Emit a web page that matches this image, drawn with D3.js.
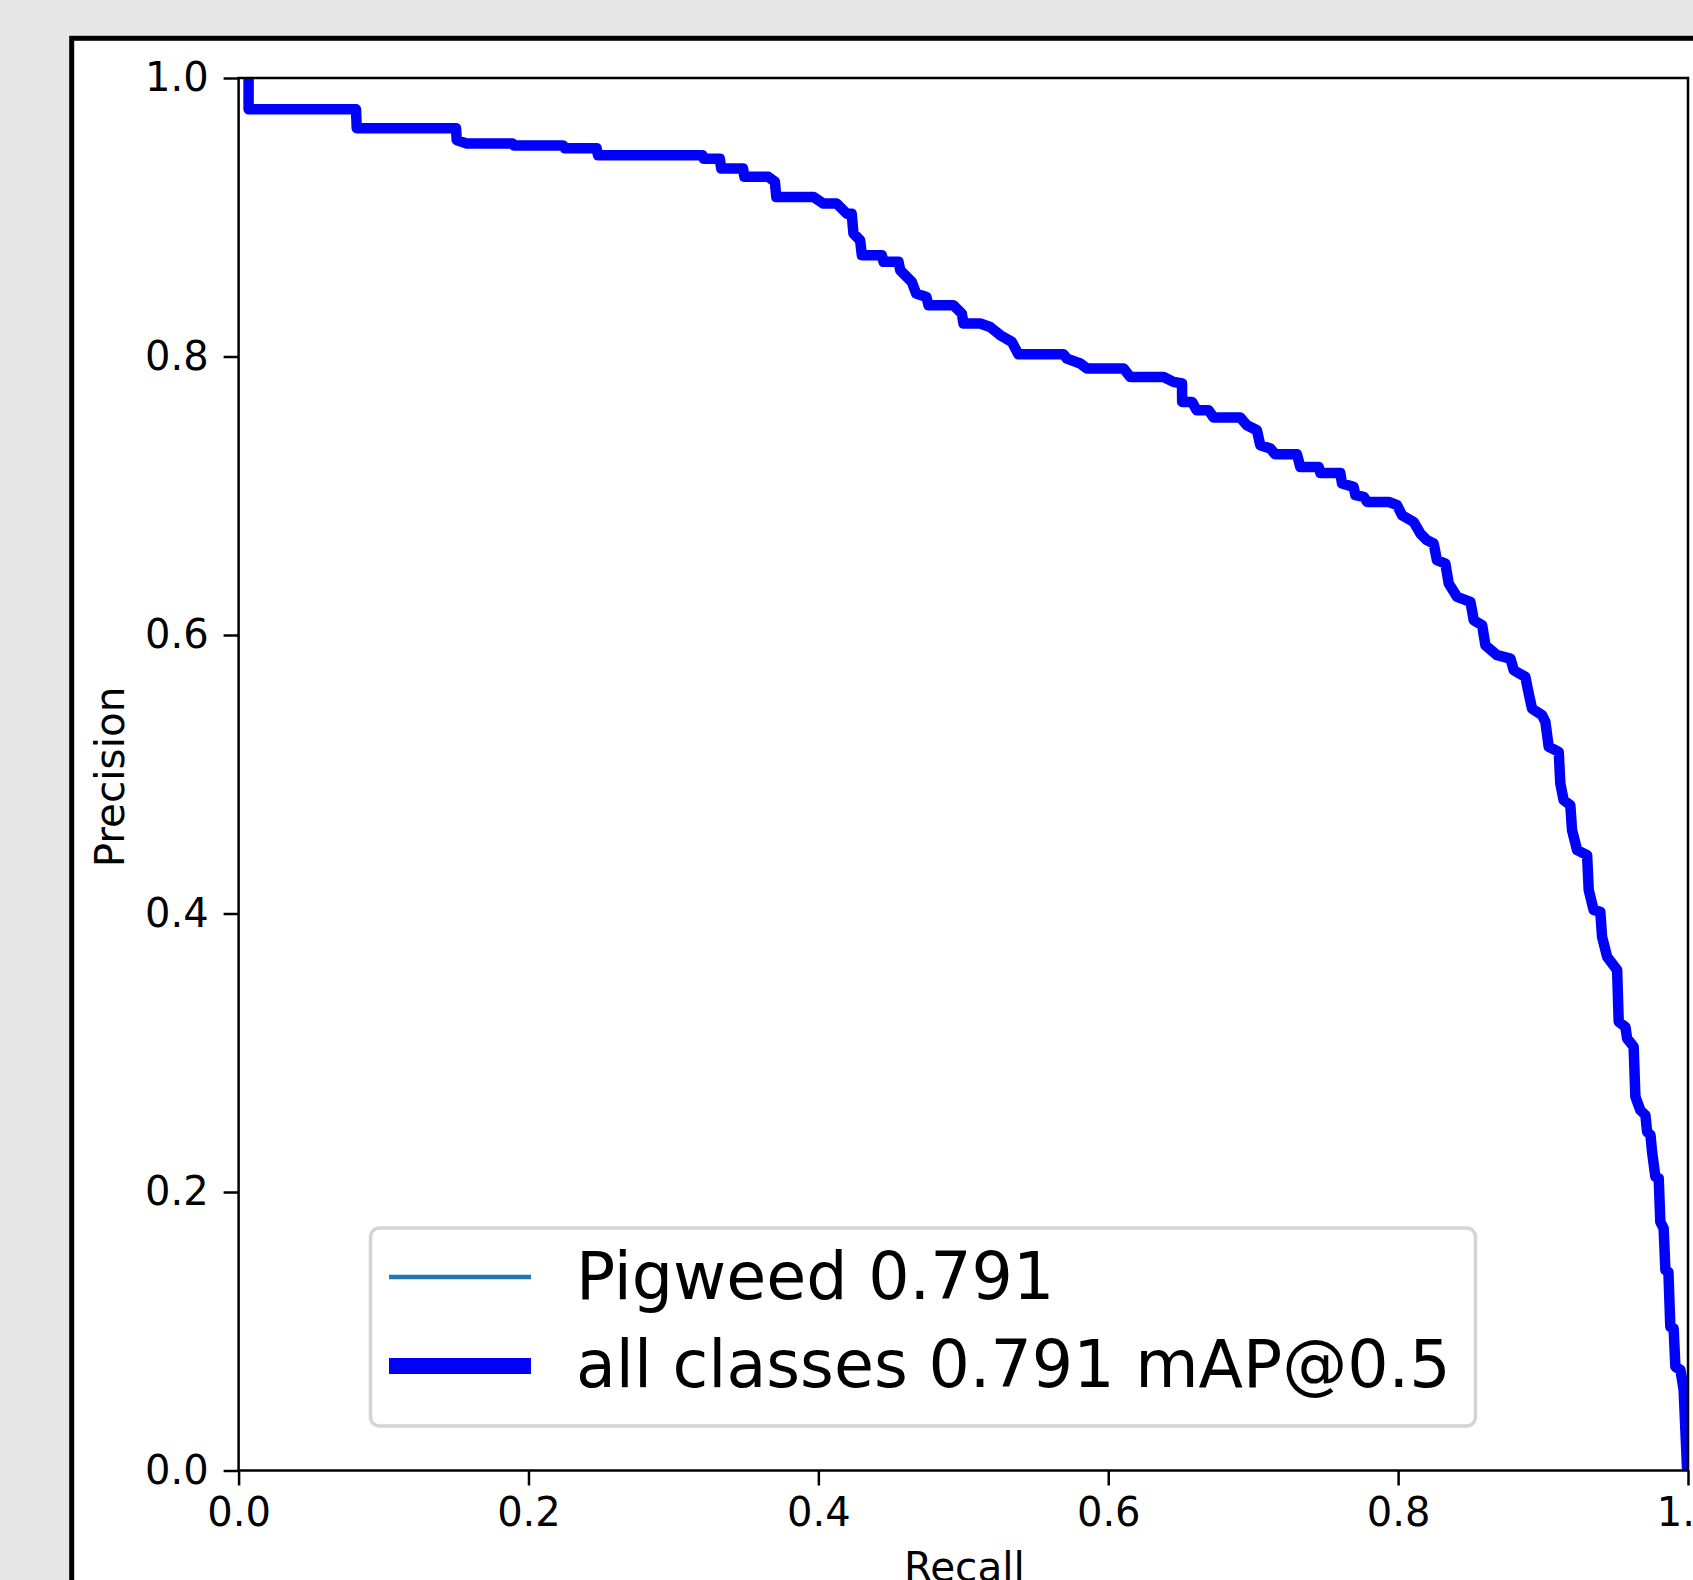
<!DOCTYPE html>
<html>
<head>
<meta charset="utf-8">
<script src="https://cdn.jsdelivr.net/npm/d3@7"></script>
<style>
  body { margin: 0; background: #e7e7e7; }
  svg { display: block; font-family: "DejaVu Sans", sans-serif; }
</style>
</head>
<body>
<div class="draw"></div>
<script>
// PR curve (recall -> precision envelope)
var recall = [
  0.0069, 0.0069, 0.081, 0.0815, 0.150, 0.1505, 0.157, 0.189, 0.190, 0.224,
  0.225, 0.247, 0.248, 0.320, 0.321, 0.332, 0.333, 0.348, 0.349, 0.3655,
  0.370, 0.371, 0.3966, 0.4035, 0.4127, 0.4196, 0.423, 0.4242, 0.4288, 0.430,
  0.4438, 0.445, 0.4553, 0.4565, 0.4645, 0.4675, 0.4745, 0.476, 0.4932, 0.499,
  0.5001, 0.5117, 0.5185, 0.5255, 0.5335, 0.538, 0.5691, 0.5715, 0.5807, 0.5853,
  0.6106, 0.6152, 0.6382, 0.645, 0.6509, 0.651, 0.6578, 0.661, 0.6692, 0.6727,
  0.6911, 0.6957, 0.7026, 0.7049, 0.7118, 0.7152, 0.7302, 0.7325, 0.7452, 0.7464,
  0.7601, 0.7613, 0.7693, 0.7705, 0.7763, 0.7786, 0.7935, 0.7993, 0.8027, 0.8107,
  0.8153, 0.8199, 0.8245, 0.8268, 0.8326, 0.8349, 0.8407, 0.8499, 0.8522, 0.858,
  0.8602, 0.8683, 0.8775, 0.8798, 0.8878, 0.8901, 0.8924, 0.8993, 0.9016, 0.9039,
  0.9108, 0.9119, 0.9142, 0.9188, 0.92, 0.9235, 0.9304, 0.9315, 0.9349, 0.9395,
  0.9407, 0.9442, 0.9511, 0.9522, 0.9568, 0.958, 0.9625, 0.9637, 0.9671, 0.9706,
  0.9718, 0.9741, 0.9752, 0.9775, 0.9798, 0.9809, 0.9832, 0.9844, 0.9865, 0.9878,
  0.9901, 0.9913, 0.9948, 0.997, 0.9982, 0.9994
];
var precision = [
  1.0, 0.9775, 0.9775, 0.964, 0.964, 0.9555, 0.953, 0.953, 0.9515, 0.9515,
  0.9495, 0.9495, 0.9445, 0.9445, 0.942, 0.942, 0.935, 0.935, 0.929, 0.929,
  0.9255, 0.9146, 0.9146, 0.9098, 0.9098, 0.9026, 0.9026, 0.8883, 0.8835, 0.8727,
  0.8727, 0.868, 0.868, 0.8619, 0.8535, 0.8452, 0.8428, 0.8368, 0.8368, 0.8308,
  0.8237, 0.8237, 0.8212, 0.8153, 0.8105, 0.8016, 0.8016, 0.7985, 0.795, 0.7914,
  0.7914, 0.7853, 0.7853, 0.7818, 0.7806, 0.7674, 0.7674, 0.7614, 0.7614, 0.7562,
  0.7562, 0.7506, 0.747, 0.7363, 0.7339, 0.7298, 0.7298, 0.7207, 0.7207, 0.7164,
  0.7164, 0.7088, 0.7064, 0.7004, 0.6992, 0.6956, 0.6956, 0.6932, 0.686, 0.6812,
  0.6729, 0.6681, 0.6657, 0.6537, 0.6513, 0.637, 0.6274, 0.6238, 0.6106, 0.607,
  0.5927, 0.5855, 0.5831, 0.5747, 0.5699, 0.558, 0.5472, 0.5424, 0.5376, 0.5197,
  0.5161, 0.4934, 0.4814, 0.4778, 0.4599, 0.4455, 0.4419, 0.4168, 0.4025, 0.4012,
  0.3833, 0.3689, 0.3594, 0.3222, 0.3186, 0.3103, 0.3043, 0.2684, 0.2588, 0.2552,
  0.2433, 0.2409, 0.2289, 0.2109, 0.2098, 0.1786, 0.1739, 0.144, 0.1425, 0.1032,
  0.102, 0.0745, 0.0722, 0.0578, 0.0291, 0.0
];
var classNames = ['Pigweed'];
var classAP = [0.791];
var meanAP = 0.791;
var xTicks = [0, 0.2, 0.4, 0.6, 0.8, 1.0];
var yTicks = [0, 0.2, 0.4, 0.6, 0.8, 1.0];

var W = 1693, H = 1580;
var box = { left: 238.6, right: 1688, top: 78, bottom: 1470.5 };

var svg = d3.select('.draw').append('svg')
  .attr('width', W)
  .attr('height', H)
  .attr('viewBox', [0, 0, W, H].join(' '));

// page + white card with black border (runs off the right/bottom edges)
svg.append('rect').attr('width', W).attr('height', H).attr('fill', '#e6e6e6');
svg.append('rect')
  .attr('x', 71.7).attr('y', 38.3)
  .attr('width', 1800).attr('height', 1700)
  .attr('fill', '#fff')
  .attr('stroke', '#000')
  .attr('stroke-width', 5);

var x = d3.scaleLinear().domain([0, 1]).range([box.left, box.right]);
var y = d3.scaleLinear().domain([0, 1]).range([box.bottom, box.top]);

svg.append('clipPath').attr('id', 'plot-clip')
  .append('rect')
  .attr('x', box.left).attr('y', box.top)
  .attr('width', box.right - box.left).attr('height', box.bottom - box.top);

var pts = recall.map(function(r, i) { return [r, precision[i]]; });
var line = d3.line()
  .x(function(d) { return x(d[0]); })
  .y(function(d) { return y(d[1]); });

var plot = svg.append('g').attr('clip-path', 'url(#plot-clip)');

// per-class curve (single class, hidden under the mean curve)
plot.append('path')
  .datum(pts)
  .attr('d', line)
  .attr('fill', 'none')
  .attr('stroke', '#1f77b4')
  .attr('stroke-width', 3);

// all classes
plot.append('path')
  .datum(pts)
  .attr('d', line)
  .attr('fill', 'none')
  .attr('stroke', '#0000ff')
  .attr('stroke-width', 10.5)
  .attr('stroke-linejoin', 'round')
  .attr('stroke-linecap', 'square');

// axes
var fmt = d3.format('.1f');
var xAxis = svg.append('g')
  .attr('transform', 'translate(0,' + box.bottom + ')')
  .call(d3.axisBottom(x).tickValues(xTicks).tickFormat(fmt).tickSize(15).tickPadding(12).tickSizeOuter(0));
var yAxis = svg.append('g')
  .attr('transform', 'translate(' + box.left + ',0)')
  .call(d3.axisLeft(y).tickValues(yTicks).tickFormat(fmt).tickSize(15).tickPadding(15).tickSizeOuter(0));

[xAxis, yAxis].forEach(function(g) {
  g.select('.domain').remove();
  g.selectAll('.tick line').attr('stroke', '#000').attr('stroke-width', 2.5);
  g.selectAll('.tick text')
    .attr('fill', '#000')
    .attr('font-size', 40)
    .attr('font-family', '"DejaVu Sans", sans-serif');
});

// spines
svg.append('rect')
  .attr('x', box.left).attr('y', box.top)
  .attr('width', box.right - box.left).attr('height', box.bottom - box.top)
  .attr('fill', 'none')
  .attr('stroke', '#000')
  .attr('stroke-width', 2.5);

// axis titles
svg.append('text')
  .attr('x', (box.left + box.right) / 2 + 1)
  .attr('y', 1581)
  .attr('text-anchor', 'middle')
  .attr('font-size', 40.5)
  .text('Recall');
svg.append('text')
  .attr('transform', 'translate(124,' + 777 + ') rotate(-90)')
  .attr('text-anchor', 'middle')
  .attr('font-size', 40.5)
  .text('Precision');

// legend
var legend = svg.append('g');
legend.append('rect')
  .attr('x', 370.5).attr('y', 1228)
  .attr('width', 1105).attr('height', 198)
  .attr('rx', 9).attr('ry', 9)
  .attr('fill', '#fff')
  .attr('stroke', '#d4d4d4')
  .attr('stroke-width', 3.5);

var entries = [
  { label: classNames[0] + ' ' + classAP[0].toFixed(3), color: '#1f77b4', width: 4.5, y: 1277, base: 1299 },
  { label: 'all classes ' + meanAP.toFixed(3) + ' mAP@0.5', color: '#0000ff', width: 16, y: 1366, base: 1387 }
];
entries.forEach(function(e) {
  legend.append('line')
    .attr('x1', 389).attr('x2', 531)
    .attr('y1', e.y).attr('y2', e.y)
    .attr('stroke', e.color)
    .attr('stroke-width', e.width);
  legend.append('text')
    .attr('x', 576)
    .attr('y', e.base)
    .attr('font-size', 65)
    .attr('fill', '#000')
    .text(e.label);
});
</script>
</body>
</html>
